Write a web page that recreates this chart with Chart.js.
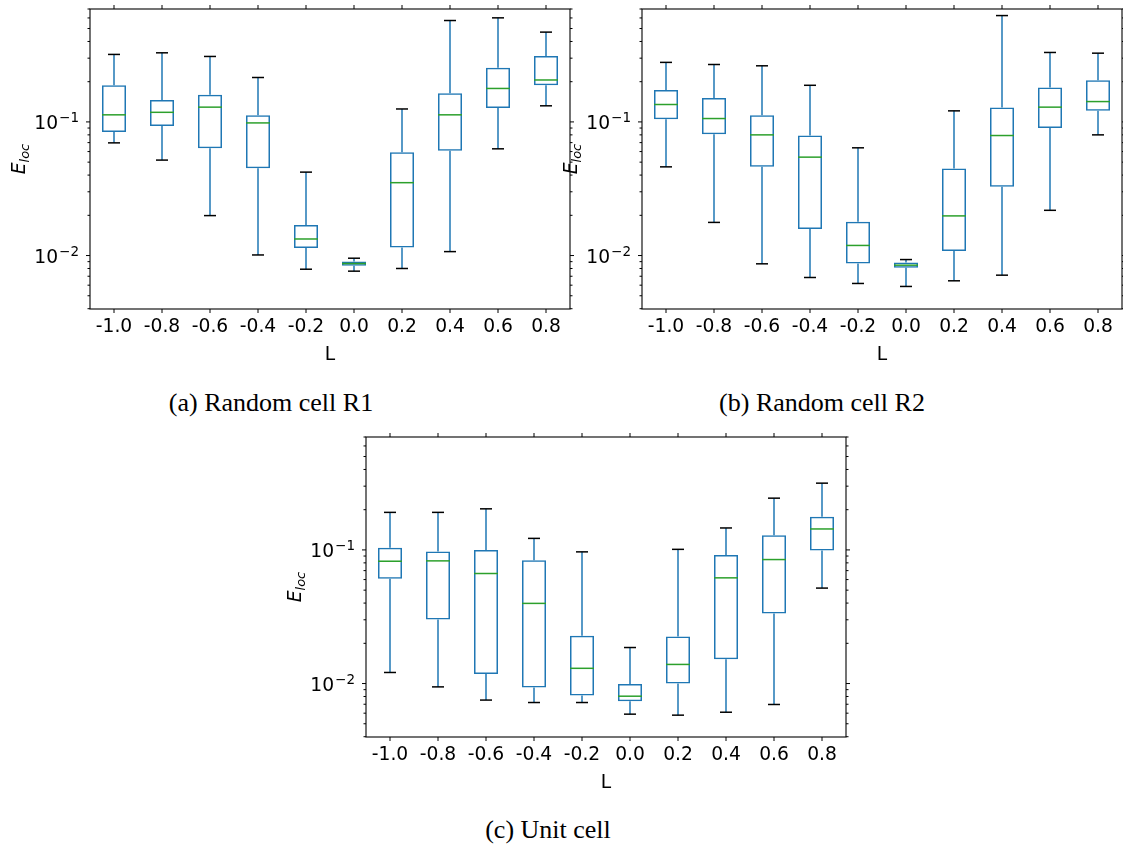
<!DOCTYPE html>
<html>
<head>
<meta charset="utf-8">
<script src="https://cdn.jsdelivr.net/npm/chart.js@4.4.0/dist/chart.umd.min.js"></script>
<style>
  body { margin: 0; background: #fff; width: 1123px; height: 848px; position: relative; overflow: hidden; }
  canvas { position: absolute; }
  .caption { position: absolute; font-family: "Liberation Serif", "Times New Roman", serif; font-size: 26px;
             line-height: 26px; white-space: nowrap; transform: translateX(-50%); color: #000; }
</style>
</head>
<body>
<canvas id="chartA" width="580" height="380" style="left:0px;top:0px"></canvas>
<canvas id="chartB" width="571" height="380" style="left:552px;top:0px"></canvas>
<canvas id="chartC" width="580" height="380" style="left:276px;top:428px"></canvas>
<div class="caption" style="left:271px;top:390px">(a) Random cell R1</div>
<div class="caption" style="left:822px;top:390px">(b) Random cell R2</div>
<div class="caption" style="left:548px;top:817px">(c) Unit cell</div>
<script>
// ============================================
// DATA
// ============================================
const categories = ['-1.0', '-0.8', '-0.6', '-0.4', '-0.2', '0.0', '0.2', '0.4', '0.6', '0.8'];

// (a) Random cell R1
const r1Low  = [0.0697, 0.0518, 0.0199, 0.0101, 0.0079, 0.00764, 0.0080, 0.0107, 0.0629, 0.132];
const r1Q1   = [0.0842, 0.0933, 0.0636, 0.0451, 0.0114, 0.00837, 0.0115, 0.0608, 0.127, 0.188];
const r1Med  = [0.113, 0.118, 0.129, 0.0983, 0.0133, 0.00871, 0.0351, 0.113, 0.178, 0.206];
const r1Q3   = [0.188, 0.146, 0.160, 0.112, 0.0169, 0.00902, 0.0594, 0.164, 0.254, 0.311];
const r1High = [0.320, 0.329, 0.309, 0.215, 0.0421, 0.00955, 0.125, 0.574, 0.601, 0.470];

// (b) Random cell R2
const r2Low  = [0.0461, 0.0177, 0.00867, 0.00685, 0.00618, 0.00587, 0.00647, 0.00713, 0.0218, 0.080];
const r2Q1   = [0.1047, 0.0809, 0.0461, 0.0158, 0.00871, 0.0081, 0.0108, 0.0327, 0.0902, 0.121];
const r2Med  = [0.135, 0.106, 0.080, 0.0545, 0.0119, 0.00847, 0.0198, 0.0791, 0.129, 0.142];
const r2Q3   = [0.173, 0.151, 0.112, 0.0791, 0.0179, 0.00887, 0.0449, 0.128, 0.181, 0.205];
const r2High = [0.279, 0.269, 0.263, 0.188, 0.064, 0.00933, 0.121, 0.625, 0.331, 0.327];

// (c) Unit cell
const ucLow  = [0.0121, 0.00944, 0.00752, 0.00721, 0.00721, 0.0059, 0.0058, 0.0061, 0.00697, 0.0518];
const ucQ1   = [0.0608, 0.0301, 0.0118, 0.00933, 0.00813, 0.00738, 0.0100, 0.0152, 0.0335, 0.0989];
const ucMed  = [0.0823, 0.0828, 0.0666, 0.0398, 0.0130, 0.00804, 0.0139, 0.0618, 0.0847, 0.1435];
const ucQ3   = [0.104, 0.0972, 0.100, 0.0837, 0.0228, 0.00994, 0.0225, 0.0918, 0.129, 0.177];
const ucHigh = [0.191, 0.191, 0.203, 0.122, 0.0967, 0.0186, 0.101, 0.146, 0.244, 0.316];

// log axis ticks: majors get a label (10 with a raised exponent), minors only a short mark
const yTickValues = [0.004, 0.005, 0.006, 0.007, 0.008, 0.009, 0.01,
                     0.02, 0.03, 0.04, 0.05, 0.06, 0.07, 0.08, 0.09, 0.1,
                     0.2, 0.3, 0.4, 0.5, 0.6, 0.7];
const yMajorValues = [0.01, 0.1];
const yMajorExponents = ['\u22122', '\u22121'];
const Y_MIN = 0.00398;
const Y_MAX = 0.70;

// ============================================
// STYLE
// ============================================
const BOX_COLOR = '#1f77b4';
const MEDIAN_COLOR = '#2ca02c';
const CAP_COLOR = '#000000';
const TICK_FONT = { family: 'DejaVu Sans', size: 18.7 };

// ============================================
// BOX PLOT EXTRAS (whiskers, caps, medians, frame, labels)
// ============================================
function boxExtras(low, med, high) {
    return {
        id: 'boxExtras',
        afterDatasetsDraw(chart) {
            const { ctx, scales: { x, y } } = chart;
            const step = x.getPixelForValue(1) - x.getPixelForValue(0);
            const halfBox = step * 0.25;
            const halfCap = step * 0.125;
            const q = chart.data.datasets[0].data;

            ctx.save();
            ctx.lineWidth = 1.5;
            ctx.lineCap = 'butt';
            const seg = (x1, y1, x2, y2, color) => {
                ctx.strokeStyle = color;
                ctx.beginPath();
                ctx.moveTo(x1, y1);
                ctx.lineTo(x2, y2);
                ctx.stroke();
            };
            low.forEach((lo, i) => {
                const cx = x.getPixelForValue(i);
                const yLo = y.getPixelForValue(lo);
                const yHi = y.getPixelForValue(high[i]);
                const yQ1 = y.getPixelForValue(q[i][0]);
                const yQ3 = y.getPixelForValue(q[i][1]);
                const yMed = y.getPixelForValue(med[i]);
                // whiskers
                seg(cx, yQ3, cx, yHi, BOX_COLOR);
                seg(cx, yQ1, cx, yLo, BOX_COLOR);
                // caps
                seg(cx - halfCap, yHi, cx + halfCap, yHi, CAP_COLOR);
                seg(cx - halfCap, yLo, cx + halfCap, yLo, CAP_COLOR);
                // median
                seg(cx - halfBox, yMed, cx + halfBox, yMed, MEDIAN_COLOR);
            });
            ctx.restore();
        },
        afterDraw(chart) {
            const { ctx, chartArea: a, scales: { x, y } } = chart;
            ctx.save();
            ctx.strokeStyle = '#000';
            ctx.lineWidth = 1.1;
            ctx.strokeRect(a.left, a.top, a.right - a.left, a.bottom - a.top);

            ctx.lineWidth = 1;
            const tick = (x1, y1, x2, y2) => {
                ctx.beginPath();
                ctx.moveTo(x1, y1);
                ctx.lineTo(x2, y2);
                ctx.stroke();
            };
            // y ticks on both sides, pointing out
            yTickValues.forEach(v => {
                const py = y.getPixelForValue(v);
                const len = yMajorValues.includes(v) ? 4 : 2.5;
                tick(a.left - len, py, a.left, py);
                tick(a.right, py, a.right + len, py);
            });
            // x ticks on bottom and top
            categories.forEach((c, i) => {
                const px = x.getPixelForValue(i);
                tick(px, a.bottom, px, a.bottom + 4);
                tick(px, a.top - 4, px, a.top);
            });

            // y tick labels: "10" with a superscript exponent, mathtext style
            ctx.fillStyle = '#000';
            ctx.textBaseline = 'alphabetic';
            ctx.textAlign = 'right';
            yMajorValues.forEach((v, k) => {
                const py = y.getPixelForValue(v);
                const rightEdge = a.left - 11;
                ctx.font = '13.5px "DejaVu Sans"';
                const wExp = ctx.measureText(yMajorExponents[k]).width;
                ctx.fillText(yMajorExponents[k], rightEdge, py);
                ctx.font = '18.7px "DejaVu Sans"';
                ctx.fillText('10', rightEdge - wExp - 1, py + 7.3);
            });

            // x axis title
            ctx.font = '18.7px "DejaVu Sans"';
            ctx.textAlign = 'center';
            ctx.fillText('L', (a.left + a.right) / 2, a.bottom + 51);

            // y axis title: E_loc, rotated
            const bigFont = 'italic 18.7px "DejaVu Sans"';
            const subFont = 'italic 13px "DejaVu Sans"';
            ctx.font = bigFont;
            const wE = ctx.measureText('E').width;
            ctx.font = subFont;
            const wSub = ctx.measureText('loc').width;
            ctx.translate(a.left - 65, (a.top + a.bottom) / 2);
            ctx.rotate(-Math.PI / 2);
            ctx.textAlign = 'left';
            const start = -(wE + wSub) / 2;
            ctx.font = bigFont;
            ctx.fillText('E', start, 0);
            ctx.font = subFont;
            ctx.fillText('loc', start + wE, 3.5);
            ctx.restore();
        }
    };
}

// ============================================
// CHART FACTORY
// ============================================
function drawBoxChart(canvasId, low, q1, med, q3, high, padRight) {
    const ctx = document.getElementById(canvasId).getContext('2d');
    return new Chart(ctx, {
        type: 'bar',
        data: {
            labels: categories,
            datasets: [{
                data: q1.map((v, i) => [v, q3[i]]), // box spans Q1..Q3
                backgroundColor: 'rgba(0,0,0,0)',
                borderColor: BOX_COLOR,
                borderWidth: 1.5,
                borderSkipped: false,
                barPercentage: 0.5,
                categoryPercentage: 1.0
            }]
        },
        options: {
            responsive: false,
            animation: false,
            layout: { autoPadding: false, padding: { left: 0, top: 9, right: padRight, bottom: 0 } },
            plugins: { legend: { display: false }, tooltip: { enabled: false } },
            scales: {
                x: {
                    type: 'category',
                    offset: true,
                    grid: { display: false, drawTicks: false },
                    border: { display: false },
                    ticks: { font: TICK_FONT, color: '#000', padding: 7, maxRotation: 0, autoSkip: false },
                    afterFit: s => {
                        s.height = 71;
                        s.paddingLeft = 0;
                        s.paddingRight = 0;
                    }
                },
                y: {
                    type: 'logarithmic',
                    min: Y_MIN,
                    max: Y_MAX,
                    grid: { display: false, drawTicks: false },
                    border: { display: false },
                    afterBuildTicks: s => { s.ticks = yTickValues.map(v => ({ value: v })); },
                    ticks: { display: false, autoSkip: false },
                    // fixed axis width, and no extra top/bottom padding from tick labels
                    afterFit: s => {
                        s.width = 90;
                        s.paddingTop = 0;
                        s.paddingBottom = 0;
                    }
                }
            }
        },
        plugins: [boxExtras(low, med, high)]
    });
}

drawBoxChart('chartA', r1Low, r1Q1, r1Med, r1Q3, r1High, 10);
drawBoxChart('chartB', r2Low, r2Q1, r2Med, r2Q3, r2High, 1);
drawBoxChart('chartC', ucLow, ucQ1, ucMed, ucQ3, ucHigh, 10);
</script>
</body>
</html>
